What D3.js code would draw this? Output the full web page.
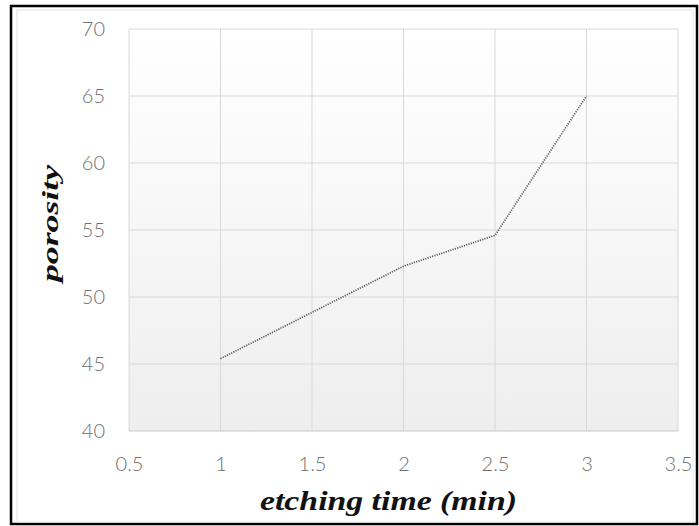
<!DOCTYPE html>
<html>
<head>
<meta charset="utf-8">
<script src="https://cdn.jsdelivr.net/npm/d3@7"></script>
<style>
  body { margin: 0; background: #fff; }
  .tick text { font-family: Lato, "Open Sans", sans-serif; font-size: 20px; font-weight: 300; fill: #707070; }
</style>
</head>
<body>
<div id="chart"></div>
<script>
// etching time vs porosity
var times = [1, 2, 2.5, 3];
var porosity = [45.4, 52.3, 54.6, 65];
var xTicks = [0.5, 1, 1.5, 2, 2.5, 3, 3.5];
var yTicks = [40, 45, 50, 55, 60, 65, 70];

var svgWidth = 699, svgHeight = 526;
var margin = {top: 29, right: 21, bottom: 95, left: 129};
var width = svgWidth - margin.left - margin.right,
    height = svgHeight - margin.top - margin.bottom;

var svg = d3.select("#chart").append("svg")
  .attr("width", svgWidth)
  .attr("height", svgHeight);

// frame
svg.append("rect")
  .attr("x", 11).attr("y", 6)
  .attr("width", 686).attr("height", 518)
  .attr("fill", "#fff")
  .attr("stroke", "#000")
  .attr("stroke-width", 2.5);
svg.append("rect")
  .attr("x", 17).attr("y", 10)
  .attr("width", 676).attr("height", 512)
  .attr("fill", "none")
  .attr("stroke", "#e4e4e4")
  .attr("stroke-width", 1);

var defs = svg.append("defs");
var grad = defs.append("linearGradient")
  .attr("id", "bg").attr("x1", 0).attr("y1", 0).attr("x2", 0).attr("y2", 1);
grad.append("stop").attr("offset", "0%").attr("stop-color", "#ffffff");
grad.append("stop").attr("offset", "100%").attr("stop-color", "#eeeeee");

var chartGroup = svg.append("g")
  .attr("transform", `translate(${margin.left}, ${margin.top})`);

chartGroup.append("rect")
  .attr("width", width)
  .attr("height", height)
  .attr("fill", "url(#bg)");

var xScale = d3.scaleLinear().domain([0.5, 3.5]).range([0, width]);
var yScale = d3.scaleLinear().domain([40, 70]).range([height, 0]);

// gridlines
chartGroup.append("g")
  .selectAll("line.v")
  .data(xTicks)
  .enter().append("line")
  .attr("x1", d => xScale(d)).attr("x2", d => xScale(d))
  .attr("y1", 0).attr("y2", height)
  .attr("stroke", "#d9d9d9").attr("stroke-width", 1);

chartGroup.append("g")
  .selectAll("line.h")
  .data(yTicks)
  .enter().append("line")
  .attr("x1", 0).attr("x2", width)
  .attr("y1", d => yScale(d)).attr("y2", d => yScale(d))
  .attr("stroke", d => d == 40 ? "#c8c8c8" : "#d9d9d9").attr("stroke-width", 1);

var xAxis = d3.axisBottom(xScale).tickValues(xTicks).tickSize(0).tickPadding(26).tickFormat(d3.format("~g"));
var yAxis = d3.axisLeft(yScale).tickValues(yTicks).tickSize(0).tickPadding(24);

chartGroup.append("g")
  .attr("transform", `translate(0, ${height})`)
  .call(xAxis)
  .call(g => g.select(".domain").remove());

chartGroup.append("g")
  .call(yAxis)
  .call(g => g.select(".domain").remove());

// data line
var line = d3.line()
  .x((d, i) => xScale(times[i]))
  .y(d => yScale(d));

chartGroup.append("path")
  .datum(porosity)
  .attr("d", line)
  .attr("fill", "none")
  .attr("stroke", "#5a5a5a")
  .attr("stroke-width", 1.7)
  .attr("stroke-dasharray", "1.2,1.2");

// axis titles
svg.append("text")
  .attr("x", 260)
  .attr("y", 510)
  .attr("textLength", 257)
  .attr("lengthAdjust", "spacingAndGlyphs")
  .attr("font-family", "Liberation Serif, serif")
  .attr("font-weight", "bold")
  .attr("font-style", "italic")
  .attr("font-size", "28px")
  .attr("fill", "#111")
  .text("etching time (min)");

svg.append("text")
  .attr("transform", "translate(58, 282) rotate(-90)")
  .attr("textLength", 117)
  .attr("lengthAdjust", "spacingAndGlyphs")
  .attr("font-family", "Liberation Serif, serif")
  .attr("font-weight", "bold")
  .attr("font-style", "italic")
  .attr("font-size", "23px")
  .attr("fill", "#111")
  .text("porosity");
</script>
</body>
</html>
